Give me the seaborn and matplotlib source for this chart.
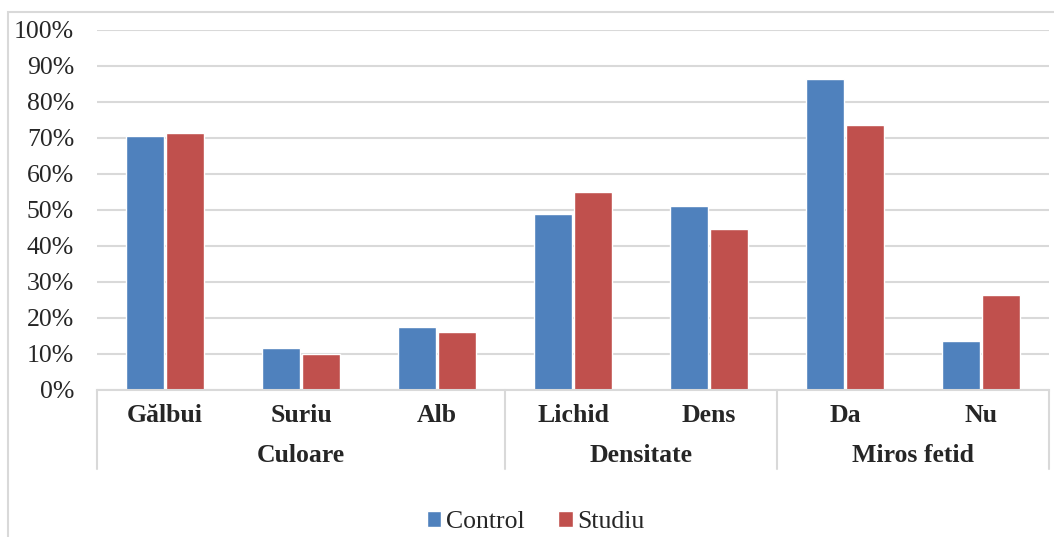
import matplotlib
matplotlib.use("Agg")
import matplotlib.pyplot as plt
import matplotlib.transforms as mtransforms
import pandas as pd
import seaborn as sns
from matplotlib.patches import Rectangle
from matplotlib.ticker import PercentFormatter

# data (percent)
groups = ["Culoare", "Densitate", "Miros fetid"]
group_sizes = [3, 2, 2]
categories = ["Gălbui", "Suriu", "Alb", "Lichid", "Dens", "Da", "Nu"]
control = [70.6, 11.6, 17.4, 49.0, 51.0, 86.4, 13.6]
studiu = [71.3, 10.0, 16.1, 55.0, 44.8, 73.5, 26.5]
series = ["Control", "Studiu"]
colors = ["#4F81BD", "#C0504D"]
yticks = list(range(0, 101, 10))

df = pd.DataFrame({
    "Categorie": categories * 2,
    "Valoare": control + studiu,
    "Serie": [series[0]] * len(categories) + [series[1]] * len(categories),
})

sns.set_style("white")
plt.rcParams["font.family"] = ["Liberation Serif", "DejaVu Serif"]
FS = 18.5
GRID = "#D9D9D9"

W, H = 1054, 537
fig = plt.figure(figsize=(W / 100, H / 100), dpi=100)
ax = fig.add_axes([97 / W, 1 - 390 / H, 952 / W, 360 / H])

sns.barplot(
    data=df, x="Categorie", y="Valoare", hue="Serie",
    order=categories, hue_order=series, palette=colors,
    width=0.58, gap=0.04, edgecolor="white", linewidth=1,
    saturation=1, ax=ax,
)

ax.set_xlim(-0.5, len(categories) - 0.5)
ax.set_ylim(0, 100)
ax.set_yticks(yticks)
ax.yaxis.set_major_formatter(PercentFormatter(decimals=0))
ax.tick_params(axis="y", length=0, pad=16.5, labelsize=FS)
for lbl in ax.get_yticklabels():
    lbl.set_va("center_baseline")
ax.set_xticks([])
ax.set_xlabel("")
ax.set_ylabel("")
ax.yaxis.grid(True, color=GRID, lw=1.5)
ax.set_axisbelow(True)
for side in ["top", "right", "left"]:
    ax.spines[side].set_visible(False)
ax.spines["bottom"].set_color(GRID)
ax.spines["bottom"].set_linewidth(1.5)

# two-level category axis
trans = mtransforms.blended_transform_factory(ax.transData, ax.transAxes)
for i, name in enumerate(categories):
    ax.text(i, -0.070, name, transform=trans, ha="center", va="center",
            fontsize=FS, fontweight="bold")

bounds = [-0.5]
for n in group_sizes:
    bounds.append(bounds[-1] + n)
for g, name in enumerate(groups):
    mid = (bounds[g] + bounds[g + 1]) / 2
    ax.text(mid, -0.181, name, transform=trans, ha="center", va="center",
            fontsize=FS, fontweight="bold")
for b in bounds:
    ax.plot([b, b], [0, -0.219], transform=trans, color=GRID, lw=1.5,
            clip_on=False)

handles, labels = ax.get_legend_handles_labels()
ax.legend(handles, labels, loc="center", bbox_to_anchor=(536 / W, 1 - 522 / H),
          bbox_transform=fig.transFigure, ncol=2, frameon=False, fontsize=FS,
          handlelength=0.55, handleheight=0.55, handletextpad=0.2,
          columnspacing=1.3, borderpad=0)

# outer chart frame
fig.patches.append(Rectangle((8 / W, -0.05), 1.2, 1 - 12 / H + 0.05,
                             transform=fig.transFigure, fill=False,
                             edgecolor=GRID, lw=1.5))

fig.savefig("out.png", dpi=100)
